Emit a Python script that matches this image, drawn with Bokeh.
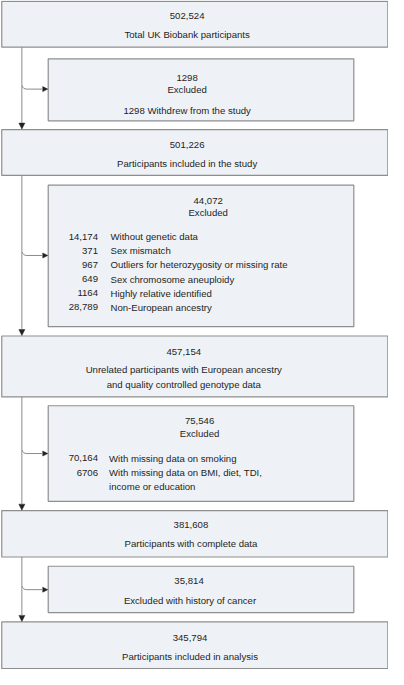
from bokeh.plotting import figure
from bokeh.models import Range1d, Arrow, NormalHead
from bokeh.core.properties import value
from bokeh.embed import file_html
from bokeh.resources import INLINE

# ---- data ----
main_counts = ["502,524", "501,226", "457,154", "381,608", "345,794"]
main_labels = [
    ["Total UK Biobank participants"],
    ["Participants included in the study"],
    ["Unrelated participants with European ancestry", "and quality controlled genotype data"],
    ["Participants with complete data"],
    ["Participants included in analysis"],
]
excl_totals = ["1298", "44,072", "75,546", "35,814"]
excl1_reason = "1298 Withdrew from the study"
excl2_counts = ["14,174", "371", "967", "649", "1164", "28,789"]
excl2_labels = ["Without genetic data", "Sex mismatch",
                "Outliers for heterozygosity or missing rate",
                "Sex chromosome aneuploidy", "Highly relative identified",
                "Non-European ancestry"]
excl3_counts = ["70,164", "6706"]
excl3_labels = [["With missing data on smoking"],
                ["With missing data on BMI, diet, TDI,", "income or education"]]
excl4_label = "Excluded with history of cancer"

# ---- layout (reference pixel space) ----
W, H = 404, 685
main_top = [0.5, 132, 343.5, 522.5, 636.5]
main_bot = [47.5, 179, 406, 570, 684.5]
main_cx = [194, 194, 190.5, 198, 197]
main_count_y = [16, 148, 359.5, 537.5, 653]
main_label_y = [[35], [167], [377.5, 393], [556.5, 672]]
main_label_y = [[35], [167], [377.5, 393], [556.5], [672]]
side_left, side_right = 49, 368
side_top = [59.5, 189, 415, 579.5]
side_bot = [123, 334, 513, 627]
arrow_y = [90.5, 261, 464, 603.5]
vx = 21.5

FILL = "#eef2f6"
EDGE = "#8e8e8e"
LINE = "#8a8a8a"
TXT = "#1e1e1e"
FONT = value("Liberation Sans")
FS = "9.6px"

p = figure(width=388, height=669, output_backend="svg", toolbar_location=None,
           x_range=Range1d(-0.8, W + 0.2), y_range=Range1d(H + 0.3, -0.3),
           min_border=0)
p.axis.visible = False
p.grid.visible = False
p.outline_line_color = None
p.background_fill_color = "white"

# vertical connectors with arrowheads
for i in range(4):
    p.add_layout(Arrow(x_start=vx, y_start=main_bot[i], x_end=vx, y_end=main_top[i + 1] - 0.5,
                       line_color=LINE, line_width=1,
                       end=NormalHead(size=6, fill_color="#222222", line_color="#222222", line_width=0.5)))

# curved side connectors
for i in range(4):
    ya = arrow_y[i]
    p.quadratic(x0=[vx + 0.5], y0=[ya - 3.5], x1=[vx + 5.5], y1=[ya], cx=[vx + 0.8], cy=[ya],
                line_color=LINE, line_width=1)
    p.add_layout(Arrow(x_start=vx + 5.5, y_start=ya, x_end=side_left - 0.5, y_end=ya,
                       line_color=LINE, line_width=1,
                       end=NormalHead(size=5, fill_color="#222222", line_color="#222222", line_width=0.5)))

# main boxes
p.quad(left=[0.5] * 5, right=[W - 0.5] * 5, top=main_top, bottom=main_bot,
       fill_color=FILL, line_color=EDGE, line_width=1.2)
# side boxes
p.quad(left=[side_left] * 4, right=[side_right] * 4, top=side_top, bottom=side_bot,
       fill_color=FILL, line_color=EDGE, line_width=1.2)

def txt(xs, ys, texts, align="center"):
    p.text(x=xs, y=ys, text=texts, text_font=FONT, text_font_size=FS,
           text_color=TXT, text_align=align, text_baseline="middle")

# main box texts
for i in range(5):
    txt([main_cx[i]], [main_count_y[i]], [main_counts[i]])
    txt([main_cx[i]] * len(main_labels[i]), main_label_y[i], main_labels[i])

# side box 1
txt([194, 194, 194], [79, 91, 112], [excl_totals[0], "Excluded", excl1_reason])

# side box 2
txt([216, 216], [204.7, 216.7], [excl_totals[1], "Excluded"])
ys2 = [241.7, 256.3, 270.7, 285.2, 299.6, 314.2]
txt([101] * 6, ys2, excl2_counts, align="right")
txt([114] * 6, ys2, excl2_labels, align="left")

# side box 3
txt([207, 207], [431, 443], [excl_totals[2], "Excluded"])
txt([101, 101], [469, 483.5], excl3_counts, align="right")
ys3 = [[469], [483.5, 498]]
for i in range(2):
    txt([112.5] * len(excl3_labels[i]), ys3[i], excl3_labels[i], align="left")

# side box 4
txt([196, 197], [595, 614.5], [excl_totals[3], excl4_label])

open("out.html", "w").write(file_html(p, INLINE))
